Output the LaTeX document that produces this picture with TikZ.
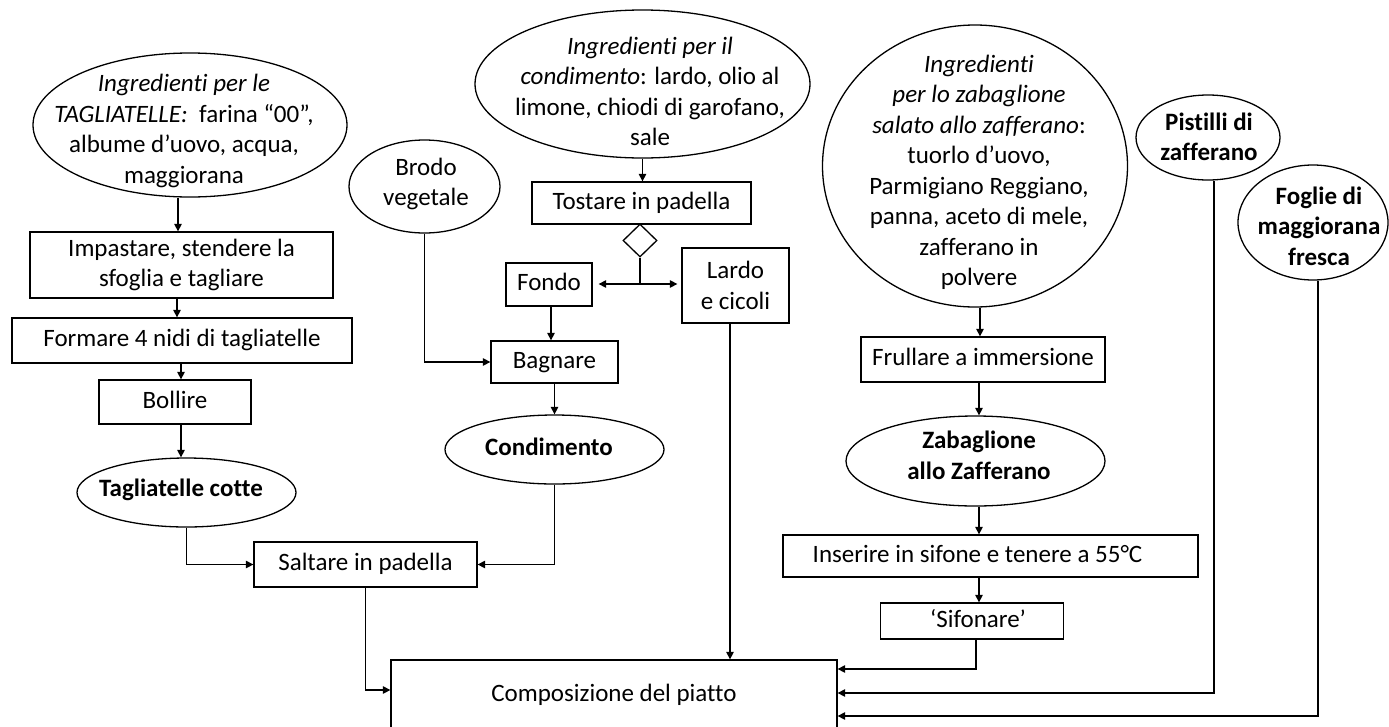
\documentclass[tikz,border=0pt]{standalone}
\usepackage{fontspec}
\setmainfont{Carlito}[Ligatures={NoCommon}]
\usetikzlibrary{shapes.geometric,arrows.meta}
\begin{document}
\begin{tikzpicture}[x=1pt,y=-1pt,
  font=\fontsize{25pt}{30.5pt}\selectfont,
  line width=1.3pt,
  sz/.style 2 args={minimum width=#1pt,minimum height=#2pt},
  box/.style={draw,rectangle,inner sep=0pt},
  onebox/.style={box,text height=18.7pt,text depth=6.2pt},
  oval/.style={draw,ellipse,inner sep=0pt},
  diam/.style={draw,diamond,inner sep=0pt},
  txt/.style={align=center,inner sep=0pt},
  arr/.style={-{Triangle[length=7.5pt,width=7.5pt]}},
]
\useasboundingbox (0,0) rectangle (1389,726);
\clip (0,0) rectangle (1389,726);

% --- tagliatelle branch ---
\node[oval,sz={314}{144}] (ing1) at (190,125) {};
\node[txt] (ing1t) at (184,131) {\textit{Ingredienti per le}\\\textit{TAGLIATELLE:}\ \ farina “00”,\\albume d’uovo, acqua,\\maggiorana};
\node[box,txt,sz={303}{66}] (imp) at (181.5,265) {Impastare, stendere la\\sfoglia e tagliare};
\node[onebox,sz={340}{45}] (form) at (182,340.5) {Formare 4 nidi di tagliatelle};
\node[onebox,sz={152}{44}] (boll) at (175,402) {Bollire};
\node[oval,sz={219}{69}] (tagc) at (186.5,492.5) {};
\node[txt] (tagct) at (181,490) {\textbf{Tagliatelle cotte}};
\node[onebox,sz={223}{45}] (salt) at (365.5,564.5) {Saltare in padella};

% --- condimento branch ---
\node[oval,sz={151}{93}] (brodo) at (424.5,186.5) {};
\node[txt] (brodot) at (426,184) {Brodo\\vegetale};
\node[oval,sz={335}{148}] (ing2) at (642.5,84) {};
\node[txt] (ing2t) at (650,91.5) {\textit{Ingredienti per il}\\\textit{condimento}: lardo, olio al\\limone, chiodi di garofano,\\sale};
\node[onebox,sz={219}{42}] (tost) at (641.5,203) {Tostare in padella};
\node[diam,sz={34}{33}] (dia) at (640,240.5) {};
\node[onebox,sz={86}{43}] (fondo) at (549,284.5) {Fondo};
\node[box,txt,sz={107}{75}] (lardo) at (735.5,285.5) {Lardo\\e cicoli};
\node[onebox,sz={127}{42}] (bagn) at (554.5,362) {Bagnare};
\node[oval,sz={219}{69}] (cond) at (554.5,449.5) {};
\node[txt] (condt) at (549,447) {\textbf{Condimento}};

% --- zabaglione branch ---
\node[oval,sz={305}{282}] (ing3) at (975,166) {};
\node[txt] (ing3t) at (979,172.5) {\textit{Ingredienti}\\\textit{per lo zabaglione}\\\textit{salato allo zafferano}:\\tuorlo d’uovo,\\Parmigiano Reggiano,\\panna, aceto di mele,\\zafferano in\\polvere};
\node[onebox,sz={244}{45}] (frul) at (983,359.5) {Frullare a immersione};
\node[oval,sz={259}{90}] (zab) at (975.5,461) {};
\node[txt] (zabt) at (979,455.5) {\textbf{Zabaglione}\\\textbf{allo Zafferano}};
\node[onebox,sz={415}{42}] (ins) at (990.5,556) {Inserire in sifone e tenere a 55°C\hspace*{26pt}};
\node[onebox,sz={183}{36}] (sif) at (972,621) {\hspace*{12pt}‘Sifonare’};

% --- garnish ---
\node[oval,sz={144}{85}] (pist) at (1208,137.5) {};
\node[txt] (pistt) at (1209,137) {\textbf{Pistilli di}\\\textbf{zafferano}};
\node[oval,sz={150}{115}] (fogl) at (1313,222.5) {};
\node[txt] (foglt) at (1319,226) {\textbf{Foglie di}\\\textbf{maggiorana}\\\textbf{fresca}};

% --- final plating ---
\node[onebox,sz={446}{70}] (comp) at (614,695) {Composizione del piatto};

% --- connectors ---
\draw[arr] ([xshift=-12pt]ing1.south) -- ([xshift=-3.5pt]imp.north);
\draw[arr] ([xshift=-4.5pt]imp.south) -- ([xshift=-5pt]form.north);
\draw[arr] ([xshift=-1pt]form.south) -- ([xshift=6pt]boll.north);
\draw[arr] ([xshift=6pt]boll.south) -- ([xshift=-5.5pt]tagc.north);
\draw[arr] (tagc.south) |- (salt.west);
\draw[arr] (cond.south) |- (salt.east);
\draw[arr] (salt.south) |- ([yshift=5pt]comp.west);

\draw[arr] (brodo.south) |- (bagn.west);
\draw[arr] (ing2.south) -- (ing2.south |- tost.north);
\coordinate (split) at (640,284);
\draw (dia.south) -- (split);
\draw[arr,shorten >=6pt] (split) -- (split -| fondo.east);
\draw[arr,shorten >=4pt] (split) -- (split -| lardo.west);
\draw[arr] ([xshift=2pt]fondo.south) -- ([xshift=2pt]fondo.south |- bagn.north);
\draw[arr] (bagn.south) -- (cond.north);
\draw[arr] ([xshift=-5.5pt]lardo.south) -- ([xshift=-5.5pt]lardo.south |- comp.north);

\draw[arr] ([xshift=5pt]ing3.south) -- ([xshift=-3pt]frul.north);
\draw[arr] ([xshift=-4pt]frul.south) -- ([xshift=3.5pt]zab.north);
\draw[arr] ([xshift=3.5pt]zab.south) -- ([xshift=-11.5pt]ins.north);
\draw[arr] ([xshift=-11.5pt]ins.south) -- ([xshift=7pt]sif.north);
\draw[arr] ([xshift=4pt]sif.south) |- ([yshift=26pt]comp.east);
\draw[arr] ([xshift=6pt]pist.south) |- ([yshift=2pt]comp.east);
\draw[arr] ([xshift=5pt]fogl.south) |- ([yshift=-21pt]comp.east);
\end{tikzpicture}
\end{document}
